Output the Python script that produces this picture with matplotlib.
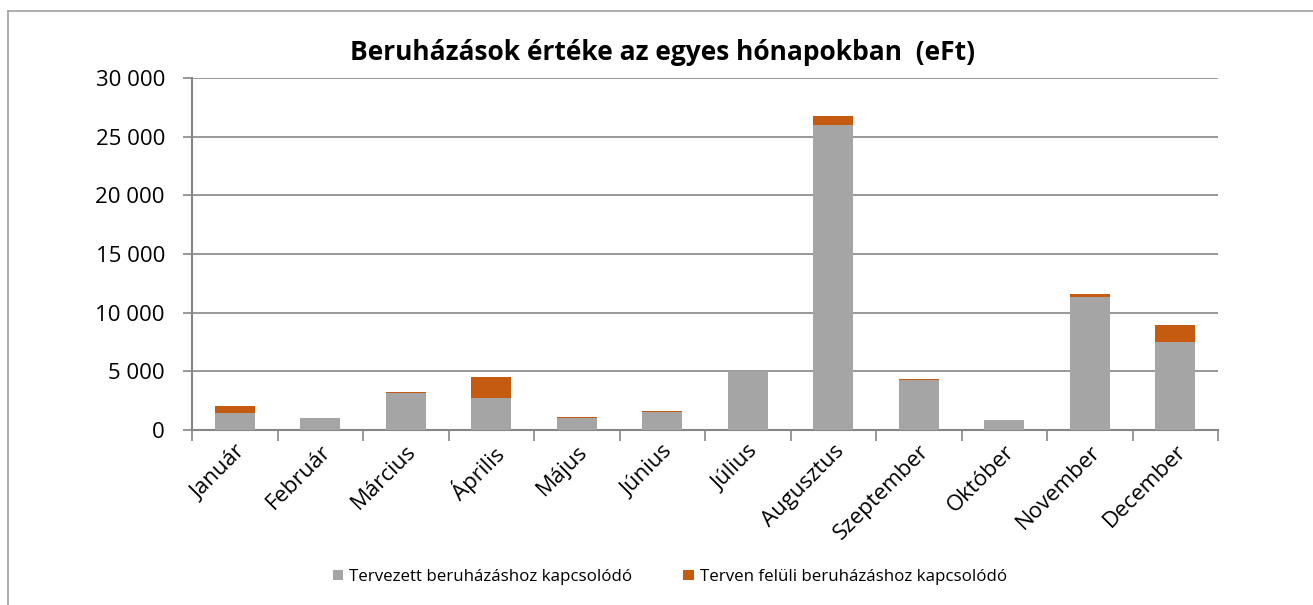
import matplotlib
matplotlib.use("Agg")
import matplotlib.pyplot as plt
from matplotlib.ticker import FuncFormatter, FixedLocator
import numpy as np

months = ["Január", "Február", "Március", "Április", "Május", "Június",
          "Július", "Augusztus", "Szeptember", "Október", "November", "December"]
planned = [1450, 1020, 3150, 2730, 1050, 1560, 5000, 25970, 4260, 850, 11360, 7520]
unplanned = [590, 0, 90, 1790, 60, 60, 0, 790, 90, 0, 230, 1430]
series_names = ["Tervezett beruházáshoz kapcsolódó", "Terven felüli beruházáshoz kapcsolódó"]
title = "Beruházások értéke az egyes hónapokban  (eFt)"

GRAY = "#A5A5A5"
ORANGE = "#C55A11"
AXC = "#868686"

plt.rcParams['font.family'] = ['Open Sans', 'DejaVu Sans']

fig = plt.figure(figsize=(13.13, 6.05), dpi=100)
ax = fig.add_axes([192/1313, 1-430/605, (1218-192)/1313, (430-78)/605])

x = np.arange(len(months))
ax.bar(x, planned, width=0.47, color=GRAY, zorder=3, label=series_names[0])
ax.bar(x, unplanned, width=0.47, bottom=planned, color=ORANGE, zorder=3, label=series_names[1])

ax.set_xlim(-0.5, len(months) - 0.5)
ax.set_ylim(0, 30000)
ax.set_yticks(np.arange(0, 30001, 5000))
ax.yaxis.set_major_formatter(FuncFormatter(lambda v, p: f"{int(v):,}".replace(",", " ")))
ax.grid(axis='y', color=AXC, linewidth=1.2, zorder=0)

for s in ['top', 'right']:
    ax.spines[s].set_visible(False)
for s in ['left', 'bottom']:
    ax.spines[s].set_color(AXC)
    ax.spines[s].set_linewidth(1.5)

ax.tick_params(axis='y', colors=AXC, length=6.5, width=1.2, labelsize=16, labelcolor='black', pad=13)
# x ticks at category boundaries
ax.xaxis.set_major_locator(FixedLocator(np.arange(-0.5, len(months), 1.0)))
ax.xaxis.set_major_formatter(FuncFormatter(lambda v, p: ""))
ax.xaxis.set_minor_locator(FixedLocator(x))
ax.set_xticklabels(months, minor=True)
ax.tick_params(axis='x', which='major', colors=AXC, length=8, width=1.2)
ax.tick_params(axis='x', which='minor', length=0, labelsize=16, labelcolor='black', pad=8)
for lbl in ax.get_xticklabels(minor=True):
    lbl.set_rotation(45)
    lbl.set_ha('right')
    lbl.set_rotation_mode('anchor')
    lbl.set_va('top')

fig.text(663/1313, 1-53/605, title, ha='center', va='center', fontsize=19, fontweight='bold')

leg = fig.legend(loc='center', bbox_to_anchor=(670/1313, 1-577/605), ncol=2, frameon=False,
                 fontsize=12.2, handlelength=0.6, handleheight=0.6, columnspacing=3.0, handletextpad=0.4)

# outer chart border (left and top visible)
fig.add_artist(plt.Line2D([8/1313, 8/1313], [0, 1-11/605], transform=fig.transFigure, color="#A0A0A0", lw=1.2))
fig.add_artist(plt.Line2D([8/1313, 1], [1-11/605, 1-11/605], transform=fig.transFigure, color="#A0A0A0", lw=1.2))

fig.savefig("out.png", dpi=100)
